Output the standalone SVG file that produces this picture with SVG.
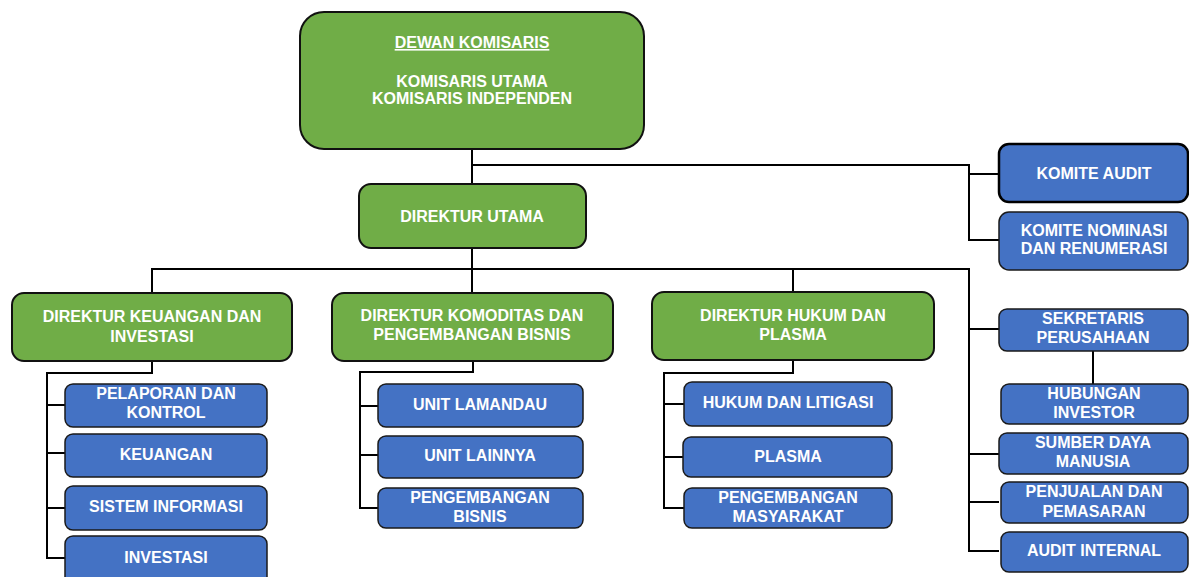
<svg xmlns="http://www.w3.org/2000/svg" width="1189" height="577" viewBox="0 0 1189 577">
<style>
.g{fill:#70AD47;stroke:#111;stroke-width:2}
.b{fill:#4472C4;stroke:#1a1a1a;stroke-width:1.5}
.t{font-family:"Liberation Sans",Arial,sans-serif;font-weight:bold;font-size:16px;fill:#fff;text-anchor:middle}
.c{fill:none;stroke:#000;stroke-width:2}
</style>
<rect width="1189" height="577" fill="#fff"/>
<g id="connectors" class="c">
<path d="M472 149V184M472 165H969V240H999M969 174H999"/>
<path d="M472 248V292M152 292V269H969V551H999M793 269V291M969 329H999M969 454H999M969 502H999M1093 351V384"/>
<path d="M152 361V373H47V558H65M47 405H65M47 453H65M47 508H65"/>
<path d="M473 361V372H360V508H378M360 406H378M360 455H378"/>
<path d="M793 360V373H664V508H684M664 404H684M664 457H684"/>
</g>
<g id="dewan"><rect class="g" x="300" y="12" width="344" height="137" rx="24"/>
<text class="t" x="472" y="48" text-decoration="underline">DEWAN KOMISARIS</text>
<text class="t" x="472" y="87">KOMISARIS UTAMA</text>
<text class="t" x="472" y="104">KOMISARIS INDEPENDEN</text></g>
<g id="direktur-utama"><rect class="g" x="359" y="184" width="227" height="64" rx="12"/>
<text class="t" x="472" y="222">DIREKTUR UTAMA</text></g>
<g id="komite-audit"><rect class="b" x="999" y="144" width="189" height="58" rx="10" style="stroke:#000;stroke-width:2.5"/>
<text class="t" x="1094" y="179">KOMITE AUDIT</text></g>
<g id="komite-nominasi"><rect class="b" x="999" y="212" width="189" height="58" rx="10"/>
<text class="t" x="1094" y="236">KOMITE NOMINASI</text><text class="t" x="1094" y="254">DAN RENUMERASI</text></g>
<g id="dir-keuangan"><rect class="g" x="12" y="293" width="280" height="68" rx="12"/>
<text class="t" x="152" y="322">DIREKTUR KEUANGAN DAN</text><text class="t" x="152" y="342">INVESTASI</text></g>
<g id="dir-komoditas"><rect class="g" x="332" y="293" width="281" height="68" rx="12"/>
<text class="t" x="472" y="321">DIREKTUR KOMODITAS DAN</text><text class="t" x="472" y="340">PENGEMBANGAN BISNIS</text></g>
<g id="dir-hukum"><rect class="g" x="652" y="292" width="282" height="68" rx="12"/>
<text class="t" x="793" y="321">DIREKTUR HUKUM DAN</text><text class="t" x="793" y="340">PLASMA</text></g>
<g id="pelaporan"><rect class="b" x="65" y="384" width="202" height="43" rx="8"/>
<text class="t" x="166" y="399">PELAPORAN DAN</text><text class="t" x="166" y="418">KONTROL</text></g>
<g id="keuangan"><rect class="b" x="65" y="434" width="202" height="43" rx="8"/>
<text class="t" x="166" y="460">KEUANGAN</text></g>
<g id="sistem-informasi"><rect class="b" x="65" y="486" width="202" height="44" rx="8"/>
<text class="t" x="166" y="512">SISTEM INFORMASI</text></g>
<g id="investasi"><rect class="b" x="65" y="536" width="202" height="50" rx="8"/>
<text class="t" x="166" y="563">INVESTASI</text></g>
<g id="unit-lamandau"><rect class="b" x="378" y="384" width="205" height="43" rx="8"/>
<text class="t" x="480" y="410">UNIT LAMANDAU</text></g>
<g id="unit-lainnya"><rect class="b" x="378" y="436" width="205" height="42" rx="8"/>
<text class="t" x="480" y="461">UNIT LAINNYA</text></g>
<g id="pengembangan-bisnis"><rect class="b" x="378" y="488" width="205" height="40" rx="8"/>
<text class="t" x="480" y="503">PENGEMBANGAN</text><text class="t" x="480" y="522">BISNIS</text></g>
<g id="hukum-litigasi"><rect class="b" x="684" y="382" width="208" height="44" rx="8"/>
<text class="t" x="788" y="408">HUKUM DAN LITIGASI</text></g>
<g id="plasma"><rect class="b" x="683" y="437" width="209" height="40" rx="8"/>
<text class="t" x="788" y="462">PLASMA</text></g>
<g id="pengembangan-masyarakat"><rect class="b" x="684" y="488" width="208" height="40" rx="8"/>
<text class="t" x="788" y="503">PENGEMBANGAN</text><text class="t" x="788" y="522">MASYARAKAT</text></g>
<g id="sekretaris"><rect class="b" x="999" y="309" width="189" height="42" rx="8"/>
<text class="t" x="1093" y="324">SEKRETARIS</text><text class="t" x="1093" y="343">PERUSAHAAN</text></g>
<g id="hubungan-investor"><rect class="b" x="1001" y="384" width="187" height="40" rx="8"/>
<text class="t" x="1094" y="399">HUBUNGAN</text><text class="t" x="1094" y="418">INVESTOR</text></g>
<g id="sdm"><rect class="b" x="999" y="433" width="189" height="41" rx="8"/>
<text class="t" x="1093" y="448">SUMBER DAYA</text><text class="t" x="1093" y="467">MANUSIA</text></g>
<g id="penjualan"><rect class="b" x="1001" y="482" width="187" height="41" rx="8"/>
<text class="t" x="1094" y="497">PENJUALAN DAN</text><text class="t" x="1094" y="517">PEMASARAN</text></g>
<g id="audit-internal"><rect class="b" x="1001" y="532" width="187" height="40" rx="8"/>
<text class="t" x="1094" y="556">AUDIT INTERNAL</text></g>
</svg>
